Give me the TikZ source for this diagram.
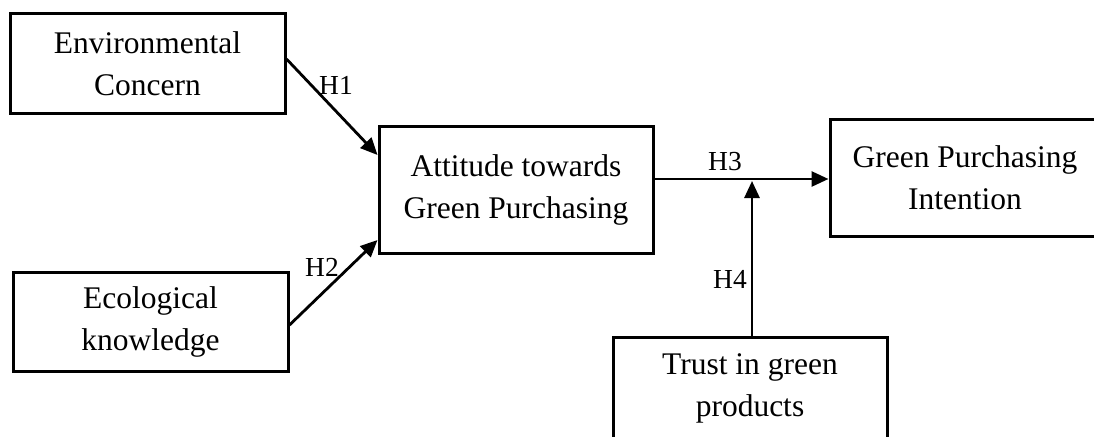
\documentclass[tikz,border=0pt]{standalone}
\usepackage{fontspec}
\setmainfont{Liberation Serif}
\usetikzlibrary{arrows.meta}
\begin{document}
\begin{tikzpicture}[x=1pt,y=-1pt,
  box/.style={draw=black,line width=3pt,align=center,inner sep=0pt,
    font=\fontsize{31.5}{42}\selectfont},
  link/.style={line width=2.8pt,-{Triangle[length=17pt,width=15pt]}},
  hlab/.style={font=\fontsize{27.5}{30}\selectfont,inner sep=0pt}]
\useasboundingbox (0,0) rectangle (1094,436);
\clip (0,0) rectangle (1094,436);
\node[box,minimum width=275pt,minimum height=100pt] (env) at (147.5,63.5) {Environmental\\Concern};
\node[box,minimum width=275pt,minimum height=99pt] (eco) at (150.5,321.5) {Ecological\\knowledge};
\node[box,minimum width=274pt,minimum height=127pt] (att) at (516,189.5) {Attitude towards\\Green Purchasing};
\node[box,minimum width=270pt,minimum height=117pt] (gpi) at (965,178) {Green Purchasing\\Intention};
\node[box,minimum width=274pt,minimum height=103pt] (tru) at (750,388.5) {Trust in green\\products};
\coordinate (j) at (752,181);
\draw[link] (env.east |- 0,59) -- (att.west |- 0,155);
\draw[link] (eco.east |- 0,325) -- (att.west |- 0,240);
\draw[link] (att.east |- 0,179) -- (gpi.west |- 0,179);
\draw[link] (tru.north -| j) -- (j);
\node[hlab] (h1) at (336,85) {H1};
\node[hlab] (h2) at (322,267) {H2};
\node[hlab] (h3) at (725,162) {H3};
\node[hlab] (h4) at (730,279) {H4};
\end{tikzpicture}
\end{document}
